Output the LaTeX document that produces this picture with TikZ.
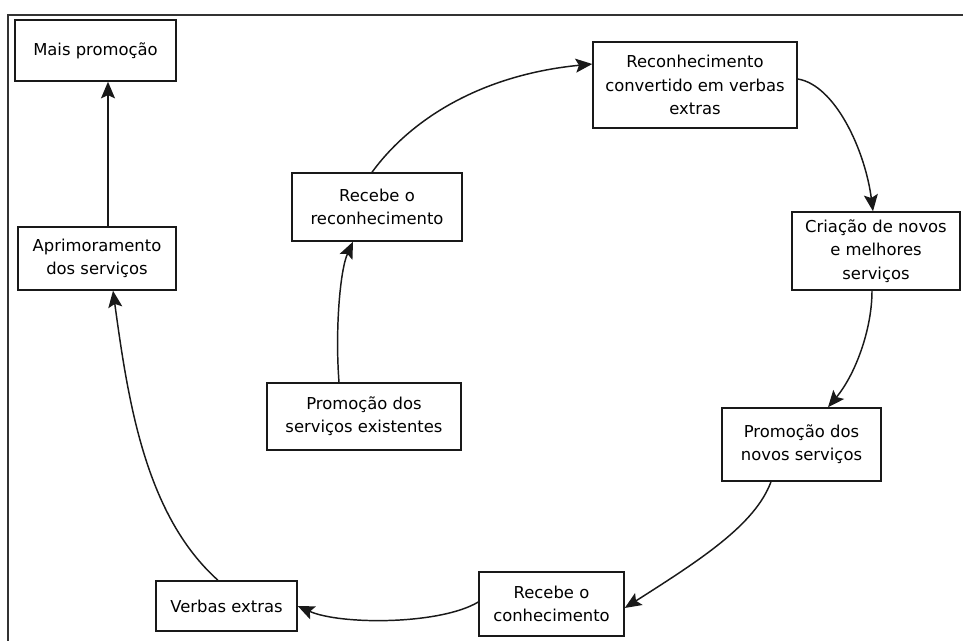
\documentclass[tikz,border=0pt]{standalone}
\usepackage{fontspec}
\setmainfont{DejaVu Sans}
\usetikzlibrary{arrows.meta}
\begin{document}
\begin{tikzpicture}[x=0.75pt,y=-0.75pt,
  box/.style={draw=black!90,line width=1.1pt,align=center,inner sep=2pt,
    font=\fontsize{12.3pt}{17.5pt}\selectfont,text=black},
  arr/.style={draw=black!90,line width=1.1pt,-{Stealth[length=12.5pt,width=10.5pt,inset=2.5pt]}},
  frame/.style={draw=black!80,line width=1.1pt}]
\useasboundingbox (0,0) rectangle (963,641);
\fill[white] (0,0) rectangle (963,641);
% frame
\coordinate (ftl) at (8,15);
\coordinate (ftr) at (963,15);
\coordinate (fbl) at (8,641);
\draw[frame] (fbl) -- (ftl) -- (ftr);
% boxes
\node[box,minimum width=161*0.75pt,minimum height=61*0.75pt] (mais) at (95.5,50.5) {Mais promoção};
\node[box,minimum width=158*0.75pt,minimum height=63*0.75pt] (aprim) at (97,258.5) {Aprimoramento\\dos serviços};
\node[box,minimum width=170*0.75pt,minimum height=68*0.75pt] (recrec) at (377,207) {Recebe o\\reconhecimento};
\node[box,minimum width=194*0.75pt,minimum height=67*0.75pt] (promex) at (364,416.5) {Promoção dos\\serviços existentes};
\node[box,minimum width=204*0.75pt,minimum height=86*0.75pt] (reconv) at (695,85) {Reconhecimento\\convertido em verbas\\extras};
\node[box,minimum width=168*0.75pt,minimum height=78*0.75pt] (criacao) at (876,251) {Criação de novos\\e melhores\\serviços};
\node[box,minimum width=159*0.75pt,minimum height=73*0.75pt] (promnov) at (801.5,444.5) {Promoção dos\\novos serviços};
\node[box,minimum width=145*0.75pt,minimum height=64*0.75pt] (receco) at (551.5,604) {Recebe o\\conhecimento};
\node[box,minimum width=141*0.75pt,minimum height=50*0.75pt] (verbas) at (226.5,606) {Verbas extras};
% connectors
\draw[arr] (aprim.north -| 108,0) -- (mais.south -| 108,0);
\draw[arr] (verbas.north -| 218,0) .. controls (145,515) and (128,400) .. (aprim.south -| 113,0);
\draw[arr] ([yshift=1.5pt]receco.west) .. controls (440,625) and (340,625) .. (verbas.east);
\draw[arr] (promnov.south -| 771,0) .. controls (755,525) and (700,560) .. ([yshift=-3pt]receco.east);
\draw[arr] (criacao.south -| 872,0) .. controls (872,330) and (855,375) .. (promnov.north -| 828,0);
\draw[arr] ([yshift=4.5pt]reconv.east) .. controls (835,85) and (865,150) .. (criacao.north -| 873,0);
\draw[arr] (recrec.north -| 372,0) .. controls (410,120) and (480,75) .. ([yshift=15.75pt]reconv.west);
\draw[arr] (promex.north -| 339,0) .. controls (335,330) and (340,270) .. (recrec.south -| 353,0);
\end{tikzpicture}
\end{document}
